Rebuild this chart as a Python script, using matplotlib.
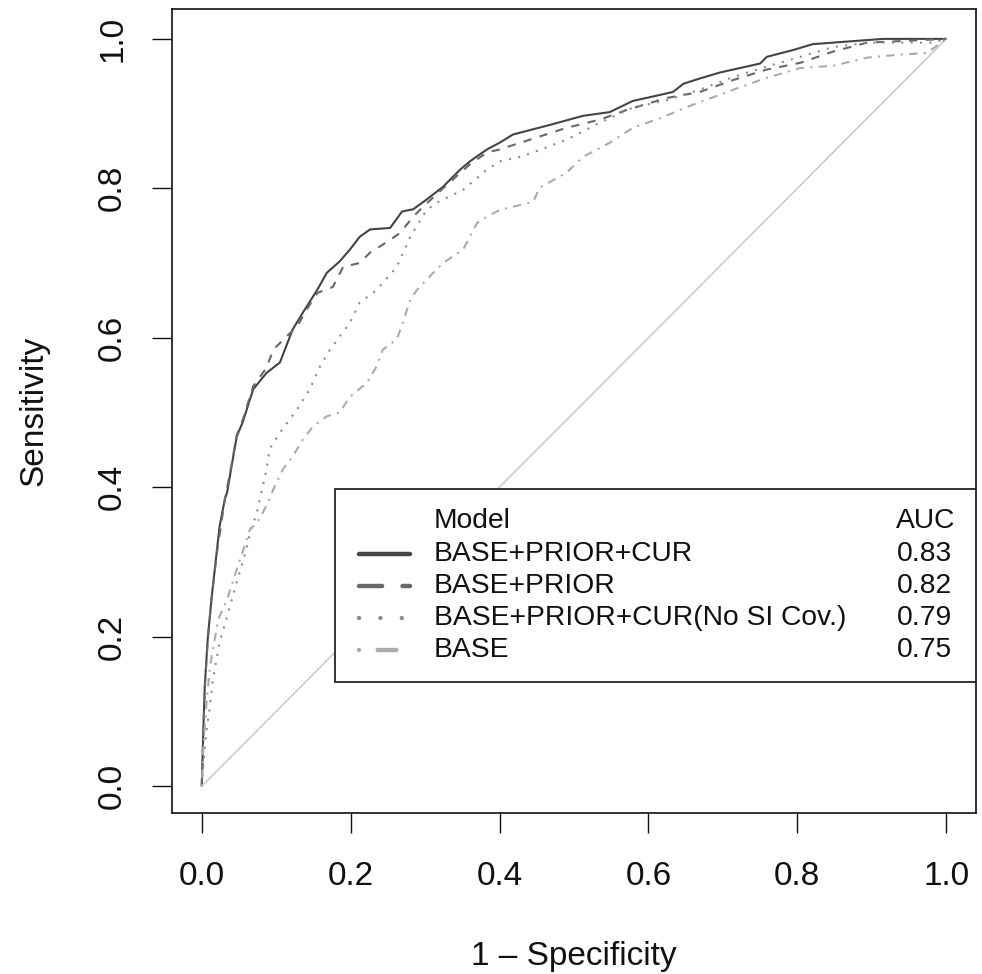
import matplotlib
matplotlib.use("Agg")
import matplotlib.pyplot as plt
from matplotlib.patches import Rectangle

plt.rcParams['font.family'] = ['Liberation Sans', 'DejaVu Sans']

# -------------------- DATOS --------------------
modelos = ["BASE+PRIOR+CUR", "BASE+PRIOR", "BASE+PRIOR+CUR(No SI Cov.)", "BASE"]
auc = ["0.83", "0.82", "0.79", "0.75"]

fpr_full = [0, 0.002, 0.004, 0.008, 0.013, 0.02, 0.024, 0.031, 0.034, 0.04, 0.047, 0.055,
            0.069, 0.087, 0.105, 0.122, 0.136, 0.155, 0.168, 0.185, 0.199, 0.212, 0.226,
            0.253, 0.269, 0.284, 0.302, 0.324, 0.347, 0.36, 0.383, 0.4, 0.418, 0.468, 0.512,
            0.548, 0.579, 0.602, 0.633, 0.647, 0.669, 0.696, 0.723, 0.75, 0.759, 0.794,
            0.821, 0.848, 0.915, 1.0]
tpr_full = [0, 0.072, 0.134, 0.197, 0.25, 0.313, 0.348, 0.384, 0.393, 0.428, 0.468, 0.487,
            0.531, 0.553, 0.567, 0.611, 0.634, 0.664, 0.687, 0.702, 0.718, 0.735, 0.745,
            0.747, 0.769, 0.772, 0.785, 0.802, 0.825, 0.836, 0.852, 0.861, 0.872, 0.885, 0.897,
            0.902, 0.917, 0.922, 0.929, 0.94, 0.947, 0.955, 0.961, 0.967, 0.976, 0.985,
            0.993, 0.995, 1.0, 1.0]

fpr_prior = [0, 0.002, 0.004, 0.008, 0.013, 0.02, 0.031, 0.04, 0.047, 0.055, 0.069, 0.087,
             0.096, 0.114, 0.128, 0.141, 0.155, 0.176, 0.19, 0.212, 0.226, 0.239, 0.253,
             0.266, 0.284, 0.297, 0.324, 0.36, 0.383, 0.4, 0.431, 0.49, 0.535, 0.571, 0.625,
             0.669, 0.714, 0.759, 0.804, 0.848, 0.894, 0.938, 1.0]
tpr_prior = [0, 0.07, 0.13, 0.195, 0.25, 0.31, 0.384, 0.43, 0.47, 0.49, 0.535, 0.56,
             0.584, 0.602, 0.615, 0.638, 0.66, 0.668, 0.695, 0.7, 0.714, 0.722, 0.731,
             0.74, 0.762, 0.775, 0.8, 0.832, 0.848, 0.852, 0.862, 0.881, 0.892, 0.905, 0.921,
             0.929, 0.945, 0.959, 0.968, 0.983, 0.995, 0.997, 1.0]

fpr_nosi = [0, 0.002, 0.006, 0.011, 0.015, 0.024, 0.034, 0.047, 0.06, 0.065, 0.074, 0.078,
            0.087, 0.091, 0.105, 0.128, 0.145, 0.159, 0.172, 0.199, 0.212, 0.235, 0.262,
            0.28, 0.302, 0.316, 0.351, 0.383, 0.4, 0.427, 0.445, 0.49, 0.535, 0.579, 0.625,
            0.669, 0.714, 0.759, 0.804, 0.848, 0.894, 0.983, 1.0]
tpr_nosi = [0, 0.027, 0.072, 0.107, 0.143, 0.193, 0.227, 0.273, 0.317, 0.34, 0.366, 0.384,
            0.424, 0.451, 0.473, 0.504, 0.531, 0.562, 0.584, 0.62, 0.647, 0.664, 0.695,
            0.735, 0.771, 0.781, 0.798, 0.825, 0.836, 0.842, 0.848, 0.865, 0.888, 0.908, 0.918,
            0.932, 0.949, 0.963, 0.976, 0.989, 0.995, 0.995, 1.0]

fpr_base = [0, 0.002, 0.006, 0.011, 0.022, 0.034, 0.047, 0.065, 0.074, 0.082, 0.091, 0.096,
            0.109, 0.122, 0.136, 0.149, 0.168, 0.185, 0.199, 0.222, 0.235, 0.243, 0.262,
            0.27, 0.28, 0.289, 0.306, 0.324, 0.351, 0.37, 0.383, 0.4, 0.445, 0.454, 0.49,
            0.512, 0.548, 0.579, 0.616, 0.66, 0.714, 0.759, 0.804, 0.848, 0.894, 0.938,
            0.974, 1.0]
tpr_base = [0, 0.049, 0.107, 0.16, 0.223, 0.25, 0.29, 0.344, 0.352, 0.366, 0.384, 0.397,
            0.424, 0.441, 0.464, 0.481, 0.495, 0.5, 0.521, 0.54, 0.562, 0.584, 0.598,
            0.62, 0.651, 0.664, 0.682, 0.7, 0.718, 0.754, 0.762, 0.771, 0.782, 0.801, 0.821,
            0.842, 0.861, 0.881, 0.894, 0.912, 0.932, 0.948, 0.961, 0.964, 0.975, 0.979,
            0.981, 1.0]

curvas = [(fpr_full, tpr_full), (fpr_prior, tpr_prior), (fpr_nosi, tpr_nosi), (fpr_base, tpr_base)]

# estilos tipo R: lty 1, 2, 3, 4
colores = ["#444444", "#686868", "#8c8c8c", "#ababab"]
trazos = [(0, ()), (0, (4, 4)), (0, (1, 3.5)), (0, (1, 3, 4, 3))]
# en la leyenda las líneas son más gruesas y los patrones más largos
trazos_ley = [(0, ()), (0, (5.2, 4.6)), (0, (0.01, 4.8)), (0, (0.01, 4.2, 4.2, 4.2))]

# -------------------- FIGURA --------------------
fig = plt.figure(figsize=(9.82, 9.74), dpi=100)
ax = fig.add_axes([172 / 982, 1 - 813 / 974, 804 / 982, 804 / 974])

# diagonal de referencia
ax.plot([0, 1], [0, 1], color="#cccccc", linewidth=1.2, zorder=1)

for (x, y), c, ls in zip(curvas, colores, trazos):
    ax.plot(x, y, color=c, linestyle=ls, linewidth=1.5, zorder=2)

ax.set_xlim(-0.04, 1.04)
ax.set_ylim(-0.036, 1.04)
ax.set_xticks([0, 0.2, 0.4, 0.6, 0.8, 1.0])
ax.set_yticks([0, 0.2, 0.4, 0.6, 0.8, 1.0])
ax.set_xticklabels(["0.0", "0.2", "0.4", "0.6", "0.8", "1.0"])
ax.set_yticklabels(["0.0", "0.2", "0.4", "0.6", "0.8", "1.0"], rotation=90, va="center")
ax.tick_params(axis="both", direction="out", length=14.5, width=1.0, labelsize=24,
               color="#111111", labelcolor="#111111")
ax.tick_params(axis="x", pad=20)
ax.tick_params(axis="y", pad=17)
for s in ax.spines.values():
    s.set_linewidth(1.2)
    s.set_color("#111111")

ax.set_xlabel("1 \u2013 Specificity", fontsize=24, color="#111111")
ax.set_ylabel("Sensitivity", fontsize=24, color="#111111")
ax.xaxis.set_label_coords(0.5, (813 - 956) / 804)
ax.xaxis.label.set_va("center")
ax.yaxis.set_label_coords((34 - 172) / 804, 0.5)
ax.yaxis.label.set_va("center")

# -------------------- LEYENDA (dibujada a mano, estilo R) --------------------
def fx(px):
    return (px - 172) / 804

def fy(py):
    return (813 - py) / 804

ax.add_patch(Rectangle((fx(335), fy(682)), fx(976) - fx(335), fy(489) - fy(682),
                       transform=ax.transAxes, facecolor="white", edgecolor="#111111",
                       linewidth=1.2, zorder=5))
filas = [554, 586, 618, 650]
ax.text(fx(434), fy(521), "Model", transform=ax.transAxes, fontsize=20.3,
        va="center", ha="left", color="#111111", zorder=6)
ax.text(fx(896), fy(521), "AUC", transform=ax.transAxes, fontsize=20.3,
        va="center", ha="left", color="#111111", zorder=6)
for nombre, valor, py, c, ls in zip(modelos, auc, filas, colores, trazos_ley):
    ax.plot([fx(359), fx(410)], [fy(py), fy(py)], transform=ax.transAxes, color=c,
            linestyle=ls, linewidth=3.2, solid_capstyle="round", dash_capstyle="round",
            zorder=6)
    ax.text(fx(434), fy(py), nombre, transform=ax.transAxes, fontsize=20.3,
            va="center", ha="left", color="#111111", zorder=6)
    ax.text(fx(897), fy(py), valor, transform=ax.transAxes, fontsize=20.3,
            va="center", ha="left", color="#111111", zorder=6)

fig.savefig("out.png", dpi=100)
